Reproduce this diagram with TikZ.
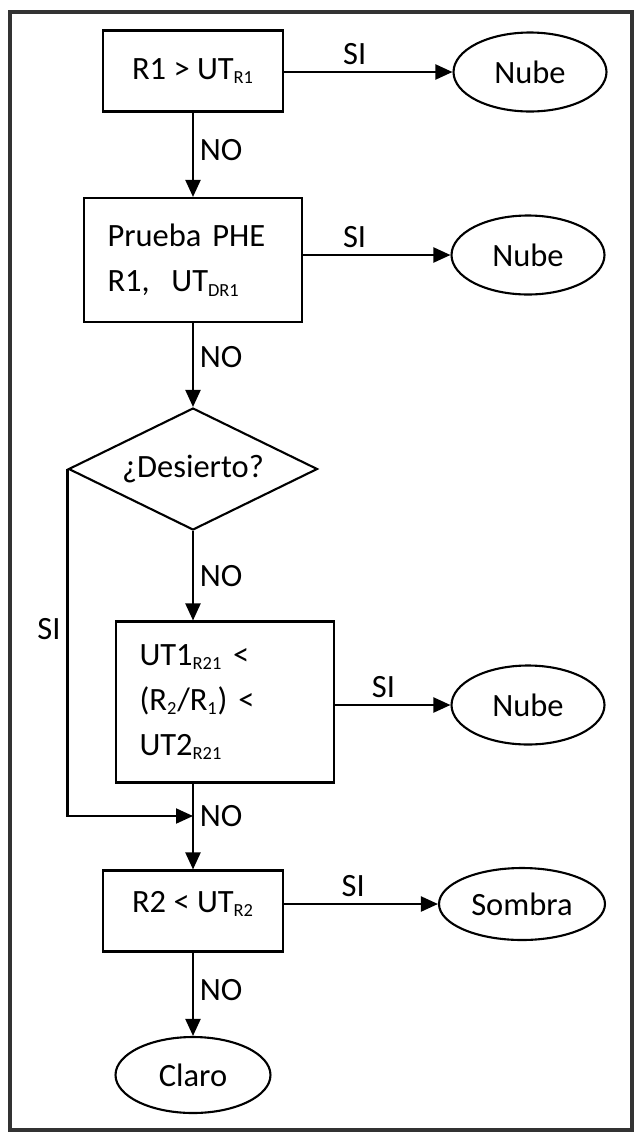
\documentclass[tikz,border=0pt]{standalone}
\usepackage{fontspec}
\setmainfont{Carlito}
\usetikzlibrary{shapes.geometric, arrows.meta, positioning, calc}
\newcommand{\lowsub}[1]{\textsubscript{\fontsize{10.5}{11}\selectfont #1}}

\begin{document}
\begin{tikzpicture}[x=0.02cm, y=-0.02cm,
  every node/.style={font=\fontsize{18.5}{22}\selectfont},
  cbox/.style={draw, line width=1.2pt, minimum width=3.6cm, minimum height=1.62cm, inner sep=0pt},
  tbox/.style={draw, line width=1.2pt, text width=3.42cm, inner xsep=0.47cm, align=left, font=\fontsize{18.5}{25.6}\selectfont},
  dbox/.style={draw, diamond, aspect=2, line width=1.2pt, minimum width=4.98cm, minimum height=2.44cm, inner sep=0pt},
  ebox/.style={draw, ellipse, line width=1.2pt, minimum width=3.06cm, minimum height=1.58cm, inner sep=0pt},
  arr/.style={line width=1.2pt, -{Triangle[length=0.34cm, width=0.3cm]}}
]
\useasboundingbox (0,0) rectangle (640,1133);
\draw[line width=2pt, black!80] (10,12) rectangle (632,1130);

\node[cbox] (r1) at (193,71) {R1 > UT\lowsub{R1}};
\node[tbox, minimum height=2.48cm] (phe) at (193,260) {Prueba PHE\\R1,\ \ UT\lowsub{DR1}};
\node[dbox] (des) at (193,469) {¿Desierto?};
\node[tbox, minimum height=3.22cm] (ratio) at (225,702) {UT1\lowsub{R21} <\\(R\lowsub{2}/R\lowsub{1}) <\\UT2\lowsub{R21}};
\node[cbox, text depth=0.38cm] (r2) at (193,911) {R2 < UT\lowsub{R2}};
\node[ebox] (nube1) at (530,72) {Nube};
\node[ebox] (nube2) at (528,255) {Nube};
\node[ebox] (nube3) at (528,705) {Nube};
\node[ebox, minimum width=3.32cm, minimum height=1.44cm] (sombra) at (522,904) {Sombra};
\node[ebox, minimum width=3.1cm, minimum height=1.52cm] (claro) at (193,1075) {Claro};
\coordinate (join) at (193,816);

\draw[arr] (r1.east |- nube1.west) -- node[above, pos=0.42] {SI} (nube1.west);
\draw[arr] (phe.east |- nube2.west) -- node[above, pos=0.35] {SI} (nube2.west);
\draw[arr] (ratio.east |- nube3.west) -- node[above, pos=0.42] {SI} (nube3.west);
\draw[arr] (r2.east |- sombra.west) -- node[above, pos=0.45] {SI} (sombra.west);

\draw[arr] (r1) -- node[right, pos=0.45] {NO} (phe);
\draw[arr] (phe) -- node[right, pos=0.4] {NO} (des);
\draw[arr] (des.south) -- node[right, pos=0.5] {NO} (des.south |- ratio.north);
\draw[arr] (ratio.south -| r2) -- node[right, pos=0.38] {NO} (r2);
\draw[arr] (des.west) |- node[left, pos=0.23] {SI} (join);
\draw[arr] (r2) -- node[right, pos=0.45] {NO} (claro);
\end{tikzpicture}
\end{document}
